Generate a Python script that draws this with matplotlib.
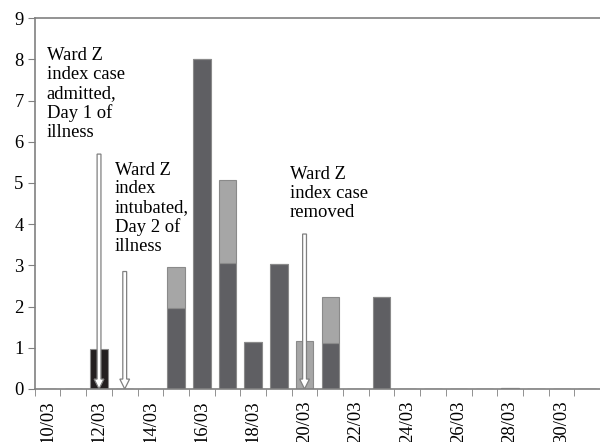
import numpy as np
import matplotlib.pyplot as plt

# one category per day, 10/03 .. 31/03
days = ['%02d/03' % d for d in range(10, 32)]
index_case = [0, 0, 0.96, 0, 0, 0, 0, 0, 0, 0, 0, 0, 0, 0, 0, 0, 0, 0, 0, 0, 0, 0]
dark = [0, 0, 0, 0, 0, 1.97, 8.0, 3.06, 1.14, 3.03, 0, 1.12, 0, 2.24, 0, 0, 0, 0, 0.03, 0, 0, 0]
light = [0, 0, 0, 0, 0, 1.0, 0, 2.01, 0, 0, 1.16, 1.12, 0, 0, 0, 0, 0, 0, 0, 0, 0, 0]

# annotations: (day, arrow top, text x, text top, text)
notes = [
    ('12/03', 5.7, -0.03, 8.3, 'Ward Z\nindex case\nadmitted,\nDay 1 of\nillness'),
    ('13/03', 2.85, 2.61, 5.52, 'Ward Z\nindex\nintubated,\nDay 2 of\nillness'),
    ('20/03', 3.76, 9.42, 5.4, 'Ward Z\nindex case\nremoved'),
]

plt.rcParams['font.family'] = ['Liberation Serif', 'DejaVu Serif']

x = np.arange(len(days))
dark = np.array(dark)
light = np.array(light)

fig = plt.figure(figsize=(6, 4.42), dpi=100)
ax = fig.add_axes([0.058, 0.12, 0.942, 0.839])

w = 0.68
ec = '#8a8a8a'
ax.bar(x, index_case, w, color='#231f20', edgecolor=ec, linewidth=0.8)
ax.bar(x, dark, w, color='#5f5f63', edgecolor=ec, linewidth=0.8)
ax.bar(x, light, w, bottom=dark, color='#a6a6a6', edgecolor=ec, linewidth=0.8)

fs = 13.4
for day, top, tx, ty, txt in notes:
    i = days.index(day)
    ax.arrow(i, top, 0, -top, width=0.15, head_width=0.38, head_length=0.24,
             length_includes_head=True, fc='white', ec='#808080', lw=0.9, zorder=5)
    ax.text(tx, ty, txt, fontsize=fs, va='top', ha='left', linespacing=1.15)

ax.set_xlim(-0.5, len(days) - 0.5)
ax.set_ylim(0, 9)
ax.set_yticks(range(10))
ax.set_xticks(x[::2])
ax.set_xticklabels(days[::2], rotation=90)
ax.set_xticks(np.arange(-0.5, len(days), 1), minor=True)
ax.tick_params(axis='x', which='major', length=0, labelsize=fs, pad=8)
ax.tick_params(axis='x', which='minor', length=5, color='#808080')
ax.tick_params(axis='y', length=5, color='#808080', labelsize=fs, pad=3)

for s in ['left', 'bottom', 'top']:
    ax.spines[s].set_color('#808080')
    ax.spines[s].set_linewidth(1.2)
ax.spines['right'].set_visible(False)

plt.savefig('out.png')
